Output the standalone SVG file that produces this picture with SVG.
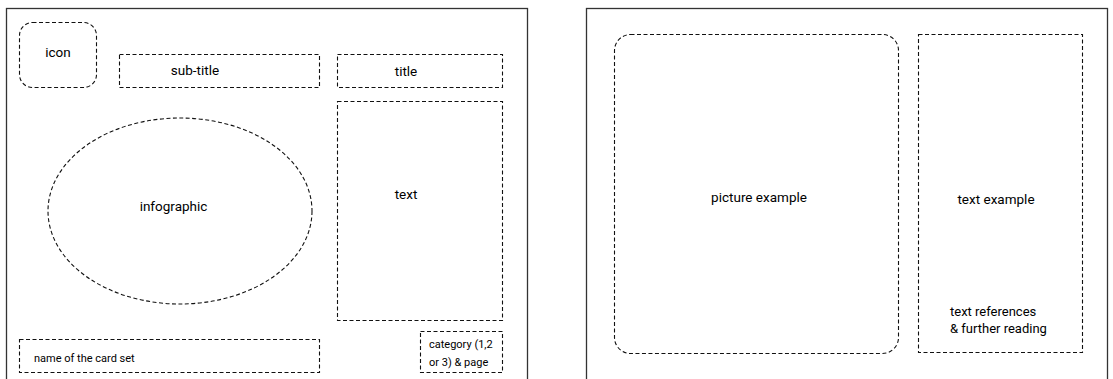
<svg xmlns="http://www.w3.org/2000/svg" width="1113" height="379" viewBox="0 0 1113 379">
<style>
.card{fill:#fff;stroke:#333;stroke-width:1.3}
.d{fill:none;stroke:#111;stroke-width:1.1;stroke-dasharray:4 2.5}
text{font-family:Roboto,"Liberation Sans",sans-serif;fill:#000}
.m{font-size:13.5px;text-anchor:middle}
.s{font-size:11px}
</style>
<rect width="1113" height="379" fill="#fff"/>
<g id="card-left">
<rect class="card" x="6.5" y="8.5" width="521" height="400"/>
</g>
<g id="card-right">
<rect class="card" x="586.5" y="8.5" width="521" height="400"/>
</g>
<g id="icon"><rect class="d" x="19.5" y="22.5" width="77" height="65" rx="13"/><text class="m" x="58" y="56.5">icon</text></g>
<g id="sub-title"><rect class="d" x="119.5" y="54.5" width="200" height="33"/><text class="m" x="195" y="75">sub-title</text></g>
<g id="title"><rect class="d" x="337.5" y="54.5" width="165" height="33"/><text class="m" x="406" y="76">title</text></g>
<g id="text"><rect class="d" x="337.5" y="101.5" width="165" height="219"/><text class="m" x="406" y="199">text</text></g>
<g id="infographic"><ellipse class="d" cx="180" cy="211" rx="132" ry="93"/><text class="m" x="173.5" y="210.5">infographic</text></g>
<g id="card-set-name"><rect class="d" x="19.5" y="339.5" width="300" height="33"/><text class="s" x="34" y="362">name of the card set</text></g>
<g id="category"><rect class="d" x="420.5" y="331.5" width="82" height="41"/><text class="s" x="429" y="348">category (1,2</text><text class="s" x="429" y="366">or 3) &amp; page</text></g>
<g id="picture-example"><rect class="d" x="614.5" y="34.5" width="284" height="319" rx="16"/><text class="m" x="759" y="201.5">picture example</text></g>
<g id="text-example"><rect class="d" x="918.5" y="34.5" width="164" height="318"/><text class="m" x="996" y="203.5">text example</text>
<text style="font-size:13px" x="950" y="315.5">text references</text><text style="font-size:13px" x="950" y="332.5">&amp; further reading</text></g>
<g id="connectors"></g>
</svg>
